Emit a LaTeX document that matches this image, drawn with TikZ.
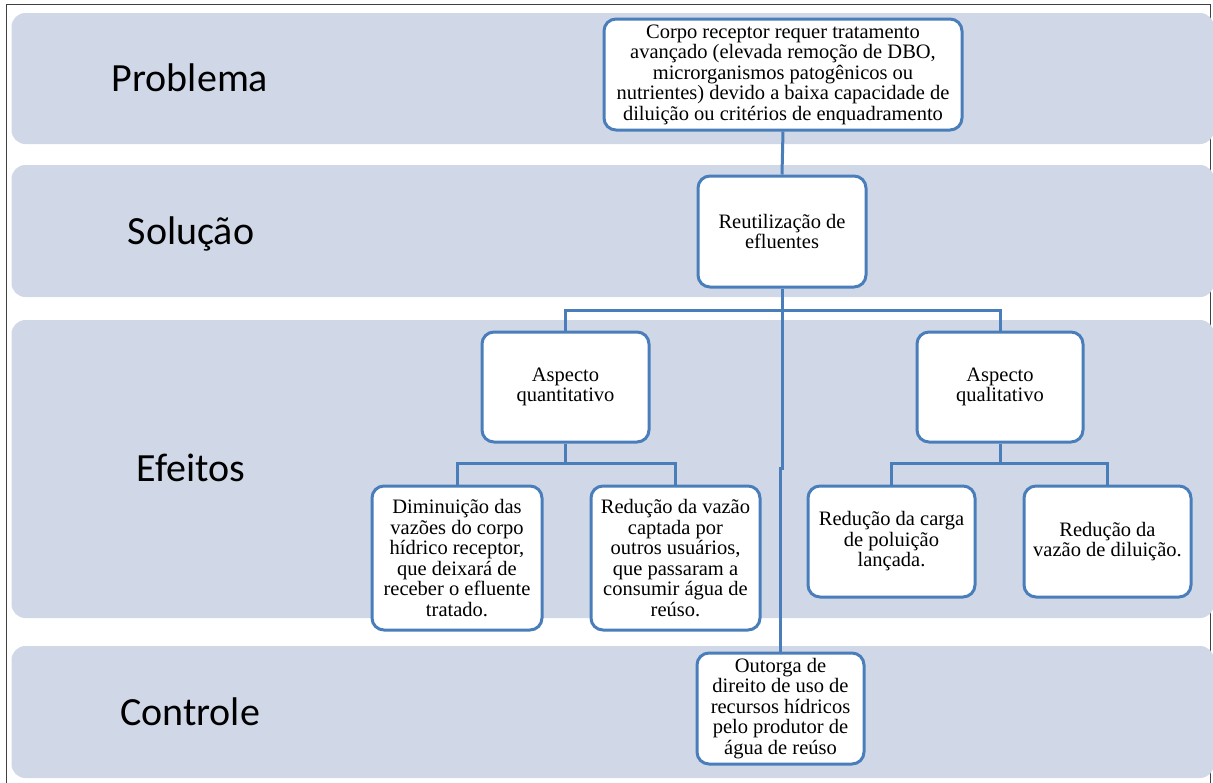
\documentclass[tikz,border=0pt]{standalone}
\usepackage{fontspec}
\setmainfont{Liberation Serif}
\newfontfamily\labfont{Carlito}
\definecolor{band}{RGB}{208,216,232}
\definecolor{lineblue}{RGB}{74,126,187}
\tikzset{
  bandbox/.style={fill=band, draw=none, rounded corners=14pt},
  bandlabel/.style={font=\labfont\fontsize{40}{44}\selectfont, text height=26pt, text depth=0pt, inner sep=0pt},
  boxnode/.style={draw=lineblue, line width=3pt, fill=white, rounded corners=12pt, align=center,
    font=\fontsize{20.5}{20.5}\selectfont, inner sep=1pt},
  conn/.style={draw=lineblue, line width=3pt}
}
\begin{document}
\begin{tikzpicture}[x=1pt,y=-1pt]
\useasboundingbox (0,0) rectangle (1213,782);
\fill[white] (0,0) rectangle (1213,782);
% frame
\draw[line width=1.2pt, black!75] (6.5,790) -- (6.5,4.5) -- (1210.5,4.5) -- (1210.5,790);
% bands
\path[bandbox] (11.5,13) rectangle (1214,144);
\path[bandbox] (11.5,165) rectangle (1214,297);
\path[bandbox] (11.5,320) rectangle (1214,618);
\path[bandbox] (11.5,646) rectangle (1214,778);
% band labels
\node[bandlabel] (lp) at (190,78) {Problema};
\node[bandlabel] (ls) at (191,231) {Solução};
\node[bandlabel] (le) at (191,468) {Efeitos};
\node[bandlabel] (lc) at (190,712) {Controle};
% boxes
\node[boxnode, minimum width=358pt, minimum height=111pt] (p) at (783,74.5)
 {Corpo receptor requer tratamento\\avançado (elevada remoção de DBO,\\microrganismos patogênicos ou\\nutrientes) devido a baixa capacidade de\\diluição ou critérios de enquadramento};
\node[boxnode, minimum width=168pt, minimum height=111pt] (r) at (782,231.5)
 {Reutilização de\\efluentes};
\node[boxnode, minimum width=167pt, minimum height=110pt] (aqt) at (565.5,387)
 {Aspecto\\quantitativo};
\node[boxnode, minimum width=166pt, minimum height=110pt] (aql) at (1000,387)
 {Aspecto\\qualitativo};
\node[boxnode, minimum width=170pt, minimum height=144pt] (dim) at (457,558)
 {Diminuição das\\vazões do corpo\\hídrico receptor,\\que deixará de\\receber o efluente\\tratado.};
\node[boxnode, minimum width=169pt, minimum height=144pt] (redv) at (675.5,558)
 {Redução da vazão\\captada por\\outros usuários,\\que passaram a\\consumir água de\\reúso.};
\node[boxnode, minimum width=167pt, minimum height=111pt] (redc) at (891.5,541.5)
 {Redução da carga\\de poluição\\lançada.};
\node[boxnode, minimum width=167pt, minimum height=111pt] (redd) at (1107.5,541.5)
 {Redução da\\vazão de diluição.};
\node[boxnode, minimum width=167pt, minimum height=111pt] (out) at (780.5,708.5)
 {Outorga de\\direito de uso de\\recursos hídricos\\pelo produtor de\\água de reúso};
% junctions
\coordinate (j1) at (782,310);
\coordinate (j2) at (782,468);
\coordinate (j3) at (565.5,463);
\coordinate (j4) at (1000,463);
% connectors
\draw[conn] (p.south) -- (r.north);
\draw[conn] (r.south) -- (j1);
\draw[conn] (aqt.north) |- (j1) -| (aql.north);
\draw[conn] (j1) -- (j2) -- (j2 -| out.north) -- (out.north);
\draw[conn] (aqt.south) -- (j3);
\draw[conn] (dim.north) |- (j3) -| (redv.north);
\draw[conn] (aql.south) -- (j4);
\draw[conn] (redc.north) |- (j4) -| (redd.north);
\end{tikzpicture}
\end{document}
